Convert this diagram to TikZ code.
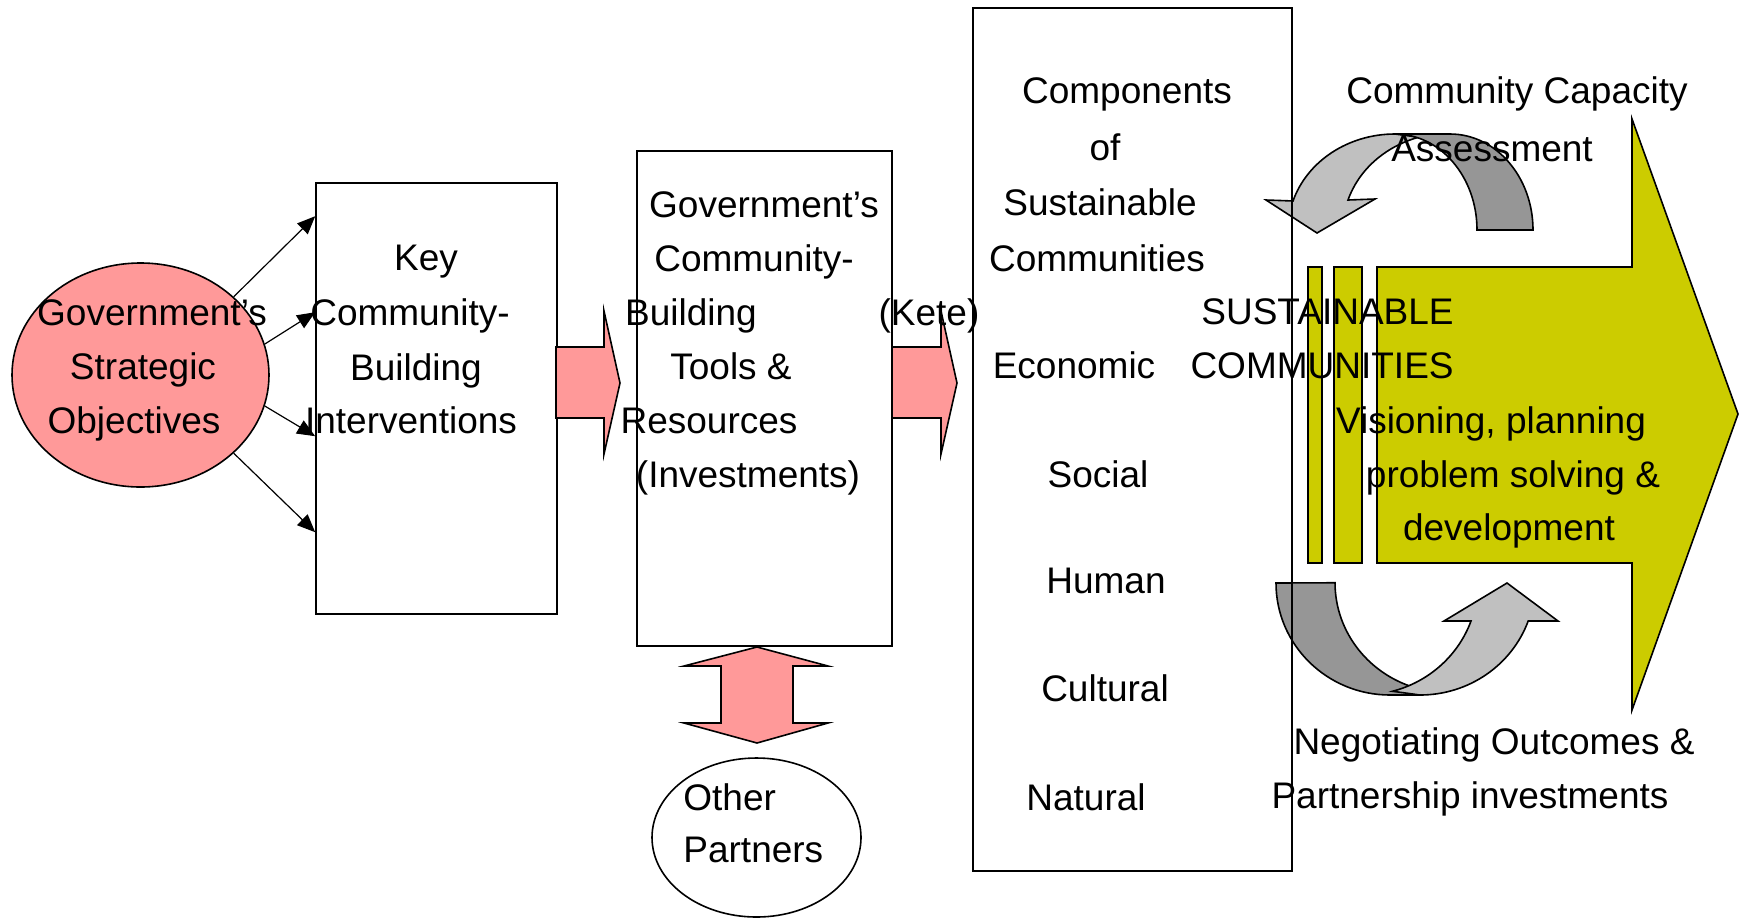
\documentclass[tikz,border=0pt]{standalone}
\usepackage{fontspec}
\setmainfont{Liberation Sans}
\usetikzlibrary{shapes.geometric,arrows.meta,calc}
\definecolor{pinkfill}{HTML}{FF9999}
\definecolor{oliveyellow}{HTML}{CCCC00}
\definecolor{lightgrey}{HTML}{C0C0C0}
\definecolor{darkgrey}{HTML}{969696}

\begin{document}
\begin{tikzpicture}[x=0.5pt,y=-0.5pt,
  box/.style={draw,line width=0.8pt,rectangle,inner sep=0pt},
  oval/.style={draw,line width=0.8pt,ellipse,inner sep=0pt},
  lbl/.style={inner sep=0pt,anchor=base,font=\fontsize{18.5}{27}\selectfont},
  block/.style={draw,line width=0.8pt,line join=miter},
  conn/.style={-{Triangle[length=9pt,width=7.5pt]},line width=0.6pt}]
\useasboundingbox (0,0) rectangle (1739,917);

% capacity assessment loop (top)
\draw[block,fill=lightgrey] (1395,134) arc[start angle=-90,end angle=-162.4,x radius=107,y radius=96]
  -- (1266,200) -- (1317,233) -- (1375,199) -- (1348,200)
  arc[start angle=-162.4,end angle=-107,x radius=107,y radius=96] -- cycle;
\draw[block,fill=darkgrey] (1395,134) -- (1450,134)
  arc[start angle=-90,end angle=0,x radius=83,y radius=96] -- (1477,230)
  arc[start angle=0,end angle=-90,x radius=82,y radius=96] -- cycle;
% negotiating loop (bottom)
\draw[block,fill=darkgrey] (1276,583) arc[start angle=180,end angle=90,x radius=114,y radius=112]
  -- (1420,695) -- (1419.5,689)
  arc[start angle=105,end angle=180,x radius=114,y radius=110] -- cycle;
\draw[block,fill=lightgrey] (1420,695) arc[start angle=90,end angle=19.8,x radius=115,y radius=112]
  -- (1558,621) -- (1507,583) -- (1444,621) -- (1471,621)
  arc[start angle=19.8,end angle=75,x radius=115,y radius=112] -- cycle;

% sustainable communities arrow
\draw[block,fill=oliveyellow] (1377,267) -- (1632,267) -- (1632,119) -- (1738,414)
  -- (1632,710) -- (1632,563) -- (1377,563) -- cycle;
\draw[block,fill=oliveyellow] (1308,267) rectangle (1322,563);
\draw[block,fill=oliveyellow] (1334,267) rectangle (1362,563);

% main boxes
\node[oval,fill=pinkfill,minimum width=128.5pt,minimum height=112pt] (gso) at (140.5,375) {};
\node[box,minimum width=120.5pt,minimum height=215.5pt] (key) at (436.5,398.5) {};
\node[box,minimum width=127.5pt,minimum height=247.5pt] (tools) at (764.5,398.5) {};
\node[box,minimum width=159.5pt,minimum height=431.5pt] (comp) at (1132.5,439.5) {};
\node[oval,fill=white,minimum width=104.5pt,minimum height=79.5pt] (partners) at (756.5,837.5) {};

\foreach \a/\d in {40/34,14/130,-14/254,-40/350}
  \draw[conn] (gso.\a) -- ($(key.north west)+(0,\d)$);

% block arrows
\draw[block,fill=pinkfill] (556,347) -- (604,347) -- (604,311) -- (620,383) -- (604,454)
  -- (604,418) -- (556,418) -- cycle;
\draw[block,fill=pinkfill] (892,347) -- (941,347) -- (941,311) -- (957,383) -- (941,454)
  -- (941,418) -- (892,418) -- cycle;
\draw[block,fill=pinkfill] (757,647) -- (828,666) -- (793,666) -- (793,723) -- (828,723)
  -- (757,743) -- (684,723) -- (721,723) -- (721,666) -- (684,666) -- cycle;

% labels
\foreach \x/\y/\t [count=\i] in {152/325/Government’s,143/379/Strategic,134/433/Objectives}
  \node[lbl] (gso-\i) at (\x,\y) {\t};
\foreach \x/\y/\t [count=\i] in {426/270/Key,410/325/Community-,416/380/Building,411/433/Interventions}
  \node[lbl] (key-\i) at (\x,\y) {\t};
\foreach \x/\y/\t [count=\i] in {764/217/Government’s,754/271/Community-,691/325/Building,
    929/325/(Kete),731/379/Tools \&,709/433/Resources,748/487/(Investments)}
  \node[lbl] (tools-\i) at (\x,\y) {\t};
\foreach \x/\y/\t [count=\i] in {1127/103/Components,1105/160/of,1100/215/Sustainable,
    1097/271/Communities,1074/378/Economic,1098/487/Social,1106/593/Human,
    1105/701/Cultural,1086/810/Natural}
  \node[lbl] (comp-\i) at (\x,\y) {\t};
\node[lbl,anchor=base east] (sc-1) at (1454,324) {SUSTAINABLE};
\node[lbl,anchor=base east] (sc-2) at (1454,378) {COMMUNITIES};
\foreach \x/\y/\t [count=\i] in {1491/433/{Visioning, planning},1513/487/problem solving \&,
    1509/540/development,1517/103/Community Capacity,1492/161/Assessment,
    1494/754/Negotiating Outcomes \&,1470/808/Partnership investments}
  \node[lbl] (sust-\i) at (\x,\y) {\t};
\node[lbl,anchor=base west] (partners-1) at (683,810) {Other};
\node[lbl,anchor=base west] (partners-2) at (683,862) {Partners};
\end{tikzpicture}
\end{document}
